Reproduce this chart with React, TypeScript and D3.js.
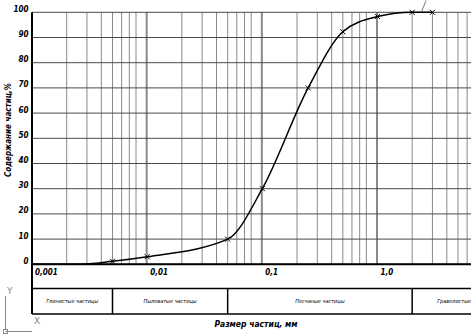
import React from "react";
import * as d3 from "d3";

const sizes = [0.001, 0.0025, 0.005, 0.01, 0.05, 0.1, 0.25, 0.5, 1, 2, 3];
const percents = [0, 0, 1.2, 3, 10, 30, 70, 92.3, 98.3, 100, 100];
const markerFrom = 2;
const yTicks = [0, 10, 20, 30, 40, 50, 60, 70, 80, 90, 100];
const xLabelValues = [0.001, 0.01, 0.1, 1];
const xLabels = ["0,001", "0,01", "0,1", "1,0"];
const decades = [0.001, 0.01, 0.1, 1, 10];
const fractionBounds = [0.001, 0.005, 0.05, 2, 20];
const fractionNames = ["Глинистые частицы", "Пылеватые частицы", "Песчаные частицы", "Гравелистые частицы"];

const W = 471;
const H = 336;
const FONT = "'Liberation Sans Narrow', 'DejaVu Sans Condensed', 'Liberation Sans', sans-serif";

export default function App() {
  const x = d3.scaleLog().domain([0.001, 1]).range([32, 377.5]);
  const y = d3.scaleLinear().domain([0, 100]).range([264.3, 12.3]);
  const xRight = W + 5;
  const tableTop = 288.5;
  const tableBottom = 314;

  const minor: number[] = [];
  decades.forEach((d) => {
    for (let m = 2; m <= 8; m++) minor.push(d * m);
  });
  const major = decades.slice(1);

  const pts = sizes.map((s, i) => [x(s), y(percents[i])] as [number, number]);
  const line = d3.line().curve(d3.curveMonotoneX)(pts) || "";

  return (
    <svg
      width={W}
      height={H}
      style={{ position: "absolute", left: 0, top: 0, background: "#fff" }}
    >
      <rect x={0} y={0} width={W} height={H} fill="#fff" />
      {/* vertical grid */}
      {minor.filter((v) => x(v) < xRight).map((v, i) => (
        <line key={"mv" + i} x1={x(v)} x2={x(v)} y1={y(100)} y2={y(0)} stroke="#8a8a8a" strokeWidth={1} />
      ))}
      {major.filter((v) => x(v) < xRight).map((v, i) => (
        <line key={"Mv" + i} x1={x(v) - 0.5} x2={x(v) - 0.5} y1={y(100)} y2={y(0)} stroke="#8a8a8a" strokeWidth={2} />
      ))}
      {/* horizontal grid */}
      {yTicks.map((t) => (
        <line key={"h" + t} x1={x(0.001)} x2={xRight} y1={y(t)} y2={y(t)} stroke="#4a4a4a" strokeWidth={1} />
      ))}
      {/* axes */}
      <line x1={x(0.001)} x2={x(0.001)} y1={y(100)} y2={tableBottom} stroke="#000" strokeWidth={2} />
      <line x1={x(0.001)} x2={xRight} y1={y(0)} y2={y(0)} stroke="#000" strokeWidth={2} />
      {/* table */}
      <line x1={x(0.001)} x2={xRight} y1={tableTop} y2={tableTop} stroke="#000" strokeWidth={1.5} />
      <line x1={x(0.001)} x2={xRight} y1={tableBottom} y2={tableBottom} stroke="#000" strokeWidth={1.5} />
      {fractionBounds.slice(1, -1).map((b, i) => (
        <line key={"fb" + i} x1={x(b)} x2={x(b)} y1={tableTop} y2={tableBottom} stroke="#000" strokeWidth={1.5} />
      ))}
      {fractionNames.map((n, i) => (
        <text
          key={"fn" + i}
          x={(x(fractionBounds[i]) + Math.min(x(fractionBounds[i + 1]), 520)) / 2}
          y={(tableTop + tableBottom) / 2 + 2}
          textAnchor="middle"
          fontFamily={FONT}
          fontStyle="italic"
          fontSize={5.5}
          fill="#000"
        >
          {n}
        </text>
      ))}
      {/* y tick labels */}
      {yTicks.map((t) => (
        <text
          key={"yl" + t}
          x={28.5}
          y={y(t) - 0.5}
          textAnchor="end"
          fontFamily={FONT}
          fontStyle="italic"
          fontWeight="bold"
          fontSize={8}
          fill="#000"
        >
          {t}
        </text>
      ))}
      {/* x tick labels */}
      {xLabelValues.map((v, i) => (
        <text
          key={"xl" + i}
          x={x(v) + 3}
          y={274.5}
          fontFamily={FONT}
          fontStyle="italic"
          fontWeight="bold"
          fontSize={8}
          fill="#000"
        >
          {xLabels[i]}
        </text>
      ))}
      {/* curve */}
      <path d={line} fill="none" stroke="#000" strokeWidth={1.5} />
      {pts.slice(markerFrom).map(([px, py], i) => (
        <g key={"mk" + i} stroke="#000" strokeWidth={1}>
          <line x1={px - 2.5} x2={px + 2.5} y1={py - 2.5} y2={py + 2.5} />
          <line x1={px - 2.5} x2={px + 2.5} y1={py + 2.5} y2={py - 2.5} />
        </g>
      ))}
      {/* leader */}
      <line x1={426} x2={421.7} y1={0.5} y2={11.5} stroke="#555" strokeWidth={0.8} />
      {/* axis titles */}
      <text
        transform={`translate(11,${130}) rotate(-90)`}
        textAnchor="middle"
        fontFamily={FONT}
        fontStyle="italic"
        fontWeight="bold"
        fontSize={8}
        fill="#000"
      >
        Содержание частиц,%
      </text>
      <text
        x={256}
        y={327}
        textAnchor="middle"
        fontFamily={FONT}
        fontStyle="italic"
        fontWeight="bold"
        fontSize={8.5}
        fill="#000"
      >
        Размер частиц, мм
      </text>
      {/* UCS icon */}
      <g stroke="#888" strokeWidth={1} fill="none">
        <line x1={5.5} x2={5.5} y1={296} y2={330} />
        <line x1={5.5} x2={32} y1={331.5} y2={331.5} />
        <rect x={3.5} y={329.5} width={4} height={4} />
      </g>
      <text x={7} y={294} fontFamily="'DejaVu Sans', sans-serif" fontSize={9} fill="#888">Y</text>
      <text x={34} y={324} fontFamily="'DejaVu Sans', sans-serif" fontSize={9} fill="#888">X</text>
    </svg>
  );
}
